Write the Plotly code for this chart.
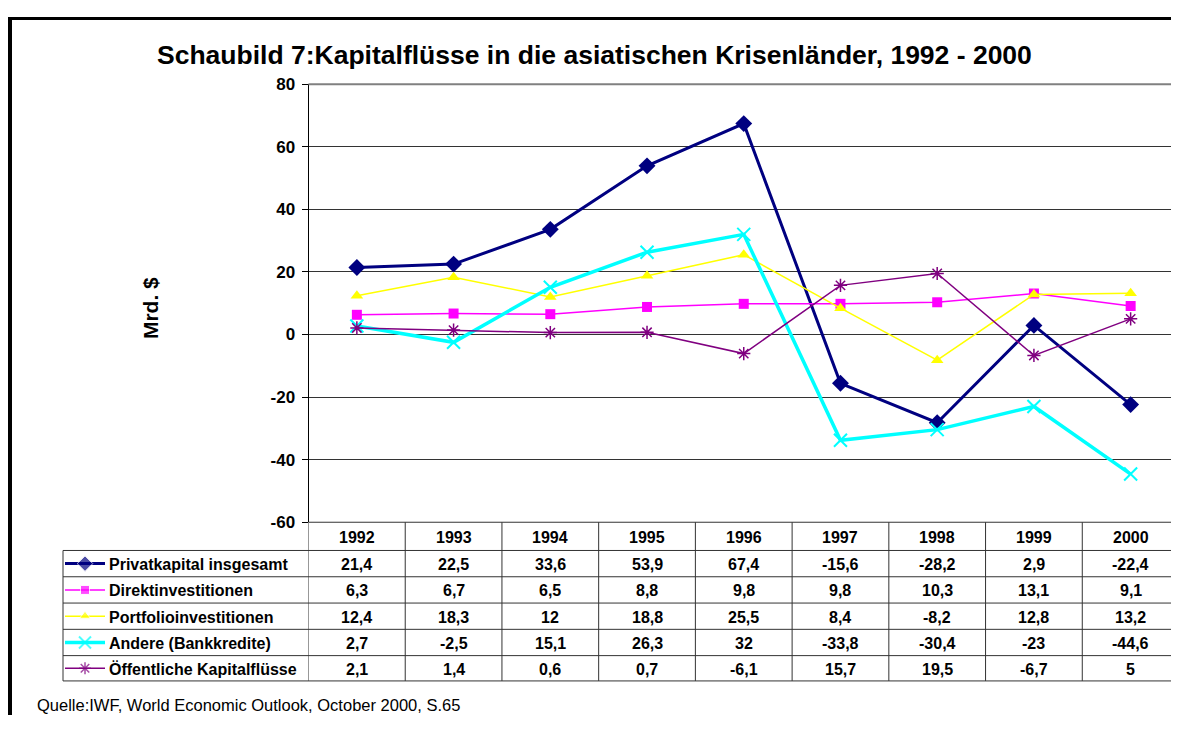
import plotly.graph_objects as go

# The page body has an 8px margin on every side; keep the figure inside the window so no
# scrollbars appear, and lay it out in window-pixel coordinates.
WIN_W, WIN_H = 1179, 733
OFF = 8
W, H = WIN_W - 2 * OFF, WIN_H - 2 * OFF
RIGHT_EDGE = OFF + W  # last visible window pixel column of the figure

# ---------------- data ----------------
years = ["1992", "1993", "1994", "1995", "1996", "1997", "1998", "1999", "2000"]
privatkapital = [21.4, 22.5, 33.6, 53.9, 67.4, -15.6, -28.2, 2.9, -22.4]
direktinvestitionen = [6.3, 6.7, 6.5, 8.8, 9.8, 9.8, 10.3, 13.1, 9.1]
portfolioinvestitionen = [12.4, 18.3, 12, 18.8, 25.5, 8.4, -8.2, 12.8, 13.2]
andere = [2.7, -2.5, 15.1, 26.3, 32, -33.8, -30.4, -23, -44.6]
oeffentlich = [2.1, 1.4, 0.6, 0.7, -6.1, 15.7, 19.5, -6.7, 5]
series_names = ["Privatkapital insgesamt", "Direktinvestitionen", "Portfolioinvestitionen",
                "Andere (Bankkredite)", "Öffentliche Kapitalflüsse"]
y_ticks = [-60, -40, -20, 0, 20, 40, 60, 80]

title_text = "Schaubild 7:Kapitalflüsse in die asiatischen Krisenländer, 1992 - 2000"
y_title = "Mrd. $"
source_text = "Quelle:IWF, World Economic Outlook, October 2000, S.65"

# ---------------- styles ----------------
FONT = "Liberation Sans, Arial, sans-serif"
styles = [
    dict(color="#000080", width=3, symbol="diamond", size=13, lw=0),
    dict(color="#FF00FF", width=1.5, symbol="square", size=10, lw=0),
    dict(color="#FFFF00", width=1.5, symbol="triangle-up", size=11, lw=0),
    dict(color="#00FFFF", width=3.5, symbol="x-thin", size=13, lw=2),
    dict(color="#800080", width=1.5, symbol="asterisk", size=11, lw=1.5),
]
values = [privatkapital, direktinvestitionen, portfolioinvestitionen, andere, oeffentlich]


def py(p):  # window pixel -> paper y
    return 1 - (p - OFF) / H


def px(p):  # window pixel -> paper x
    return (p - OFF) / W


def fmt(v):
    if float(v).is_integer():
        return str(int(v))
    return ("%g" % v).replace(".", ",")


PLOT_L, PLOT_T, PLOT_B = 308.5, 77, 527
COL_W = (WIN_W - PLOT_L) / len(years)      # the chart continues to the window edge
X_MAX = -0.5 + (RIGHT_EDGE - PLOT_L) / COL_W
TABLE_L = 63
row_lines = [527, 556, 583, 610, 637, 664, 690]

fig = go.Figure()
xs = list(range(len(years)))

for name, vals, st in zip(series_names, values, styles):
    mk = dict(symbol=st["symbol"], size=st["size"], color=st["color"])
    if st["lw"]:
        mk["line"] = dict(color=st["color"], width=st["lw"])
    fig.add_trace(go.Scatter(
        x=xs, y=vals, mode="lines+markers", name=name,
        line=dict(color=st["color"], width=st["width"]),
        marker=mk, showlegend=False, cliponaxis=False,
        xaxis="x", yaxis="y"))

# legend keys inside the data table (pixel overlay axis, window coordinates)
for i, st in enumerate(styles):
    yc = (row_lines[i + 1] + row_lines[i + 2]) / 2
    mk = dict(symbol=st["symbol"], size=[0, st["size"] - 1, 0], color=st["color"])
    if st["lw"]:
        mk["line"] = dict(color=st["color"], width=st["lw"])
    fig.add_trace(go.Scatter(
        x=[65, 85, 105], y=[yc, yc, yc], mode="lines+markers",
        line=dict(color=st["color"], width=st["width"]),
        marker=mk, showlegend=False, hoverinfo="skip",
        xaxis="x2", yaxis="y2"))

shapes = []
# outer frame (thick black, left and top)
shapes.append(dict(type="path", xref="x2", yref="y2",
                   path=f"M 9.5 {WIN_H + 20} L 9.5 8.5 L {WIN_W + 20} 8.5",
                   line=dict(color="black", width=5)))
# plot area top border (gray)
shapes.append(dict(type="line", xref="paper", yref="paper",
                   x0=px(PLOT_L), x1=1, y0=py(PLOT_T), y1=py(PLOT_T),
                   line=dict(color="#808080", width=2)))
# table horizontal lines
for j, r in enumerate(row_lines):
    x0 = px(PLOT_L) if j == 0 else px(TABLE_L)
    shapes.append(dict(type="line", xref="paper", yref="paper",
                       x0=x0, x1=1, y0=py(r), y1=py(r),
                       line=dict(color="#333333", width=1)))
# table vertical lines
shapes.append(dict(type="line", xref="paper", yref="paper",
                   x0=px(TABLE_L), x1=px(TABLE_L), y0=py(row_lines[1]), y1=py(row_lines[-1]),
                   line=dict(color="#333333", width=1)))
for k in range(len(years)):
    shapes.append(dict(type="line", xref="x", yref="paper",
                       x0=k - 0.5, x1=k - 0.5, y0=py(row_lines[0]), y1=py(row_lines[-1]),
                       line=dict(color="#333333", width=1)))

annotations = []
cell_font = dict(family=FONT, size=16, color="black", weight="bold")
# header years
for k, yr in enumerate(years):
    annotations.append(dict(x=k, xref="x", y=py((row_lines[0] + row_lines[1]) / 2 + 1), yref="paper",
                            text=yr, showarrow=False, font=cell_font,
                            xanchor="center", yanchor="middle"))
# rows
for i, (name, vals) in enumerate(zip(series_names, values)):
    yc = (row_lines[i + 1] + row_lines[i + 2]) / 2 + 1
    annotations.append(dict(x=px(107), xref="paper", y=py(yc), yref="paper",
                            text=name, showarrow=False, font=cell_font,
                            xanchor="left", yanchor="middle"))
    for k, v in enumerate(vals):
        annotations.append(dict(x=k, xref="x", y=py(yc), yref="paper",
                                text=fmt(v), showarrow=False, font=cell_font,
                                xanchor="center", yanchor="middle"))
# title
annotations.append(dict(x=px(594), xref="paper", y=py(47), yref="paper",
                        text=title_text, showarrow=False,
                        font=dict(family=FONT, size=26.5, color="black", weight="bold"),
                        xanchor="center", yanchor="middle"))
# y-axis title
annotations.append(dict(x=px(150), xref="paper", y=py(307), yref="paper",
                        text=y_title, showarrow=False, textangle=-90,
                        font=dict(family=FONT, size=21, color="black", weight="bold"),
                        xanchor="center", yanchor="middle"))
# source
annotations.append(dict(x=px(35), xref="paper", y=py(715), yref="paper",
                        text=source_text, showarrow=False,
                        font=dict(family=FONT, size=16.5, color="black"),
                        xanchor="left", yanchor="middle"))

fig.update_layout(
    width=W, height=H,
    margin=dict(l=0, r=0, t=0, b=0),
    paper_bgcolor="white",
    plot_bgcolor="rgba(0,0,0,0)",
    showlegend=False,
    xaxis=dict(domain=[px(PLOT_L), 1], range=[-0.5, X_MAX],
               showticklabels=False, showgrid=False, zeroline=False, showline=False,
               ticks="", fixedrange=True, anchor="y"),
    yaxis=dict(domain=[py(PLOT_B), py(PLOT_T)], range=[-60, 80],
               tickvals=y_ticks, ticktext=[str(t) for t in y_ticks],
               ticks="outside", ticklen=6, tickcolor="black", tickwidth=1,
               showline=True, linecolor="black", linewidth=1,
               showgrid=True, gridcolor="#333333", gridwidth=1,
               zeroline=True, zerolinecolor="#333333", zerolinewidth=1,
               tickfont=dict(family=FONT, size=17, color="black", weight="bold"),
               ticklabelstandoff=3, fixedrange=True, anchor="x"),
    xaxis2=dict(domain=[0, 1], range=[OFF, RIGHT_EDGE], visible=False, fixedrange=True, anchor="y2"),
    yaxis2=dict(domain=[0, 1], range=[OFF + H, OFF], visible=False, fixedrange=True, anchor="x2"),
    shapes=shapes,
    annotations=annotations,
)

fig.write_html("out.html")
